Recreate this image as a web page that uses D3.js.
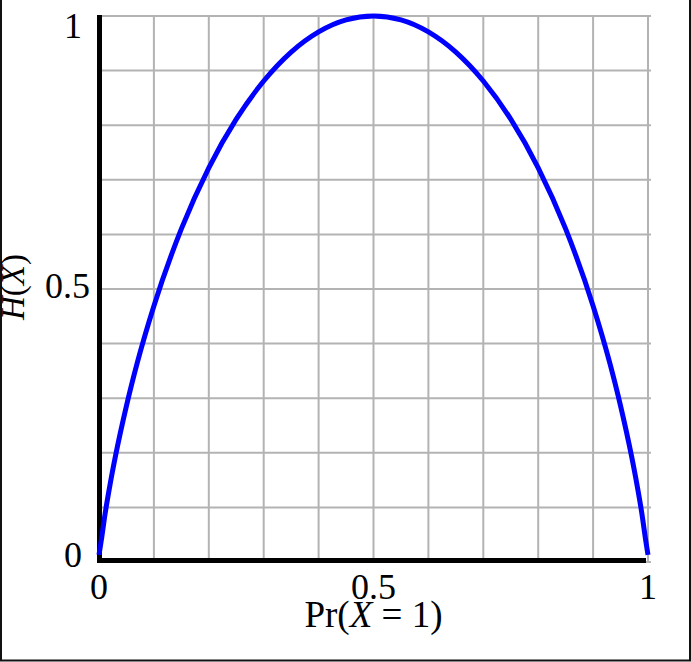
<!DOCTYPE html>
<html>
<head>
<meta charset="utf-8">
<script src="https://cdn.jsdelivr.net/npm/d3@7"></script>
<style>
  html, body { margin: 0; padding: 0; background: #fff; }
  svg { display: block; }
  text { font-family: "Liberation Serif", "Times New Roman", serif; fill: #000; }
</style>
</head>
<body>
<script>
// ---- data ----
const probs   = [0, 0.005, 0.01, 0.02, 0.03, 0.05, 0.07, 0.1, 0.15, 0.2, 0.25, 0.3, 0.35, 0.4, 0.45, 0.5,
                 0.55, 0.6, 0.65, 0.7, 0.75, 0.8, 0.85, 0.9, 0.93, 0.95, 0.97, 0.98, 0.99, 0.995, 1];
const entropy = [0.013, 0.045, 0.081, 0.141, 0.194, 0.286, 0.366, 0.469, 0.610, 0.722, 0.811, 0.881, 0.934, 0.971, 0.993, 1.0,
                 0.993, 0.971, 0.934, 0.881, 0.811, 0.722, 0.610, 0.469, 0.366, 0.286, 0.194, 0.141, 0.081, 0.045, 0.013];
const gridTicks = [0, 0.1, 0.2, 0.3, 0.4, 0.5, 0.6, 0.7, 0.8, 0.9, 1];
const xTickVals = [0, 0.5, 1];
const xTickText = ["0", "0.5", "1"];
const yTickVals = [0, 0.5, 1];
const yTickText = ["0", "0.5", "1"];

const W = 691, H = 662;
const svg = d3.select("body").append("svg").attr("width", W).attr("height", H);

const x = d3.scaleLinear().domain([0, 1]).range([99, 648]);
const y = d3.scaleLinear().domain([0, 1]).range([562, 16]);

// frame (left, bottom, right)
svg.append("path")
  .attr("d", `M1,0 V660.5 H690 V0`)
  .attr("fill", "none").attr("stroke", "#111").attr("stroke-width", 2);

// grid
const grid = svg.append("g").attr("stroke", "#b3b3b3").attr("stroke-width", 2);
grid.selectAll("line.v").data(gridTicks).join("line").attr("class", "v")
  .attr("x1", d => x(d)).attr("x2", d => x(d))
  .attr("y1", y(1) - 1).attr("y2", y(0));
grid.selectAll("line.h").data(gridTicks).join("line").attr("class", "h")
  .attr("y1", d => y(d)).attr("y2", d => y(d))
  .attr("x1", x(0)).attr("x2", x(1) + 3);

// axes (thick black)
svg.append("line").attr("x1", x(0) + 0.5).attr("x2", x(0) + 0.5)
  .attr("y1", y(1) - 1).attr("y2", y(0) + 1)
  .attr("stroke", "#000").attr("stroke-width", 5);
svg.append("line").attr("x1", x(0) - 2).attr("x2", x(1) - 2)
  .attr("y1", y(0) - 1.5).attr("y2", y(0) - 1.5)
  .attr("stroke", "#000").attr("stroke-width", 5);

// curve
const line = d3.line().x((d, i) => x(probs[i])).y(d => y(d)).curve(d3.curveMonotoneX);
svg.append("path").datum(entropy)
  .attr("d", line)
  .attr("fill", "none").attr("stroke", "#0000ff").attr("stroke-width", 5);

// x tick labels
svg.selectAll("text.xt").data(xTickVals).join("text").attr("class", "xt")
  .attr("x", d => x(d)).attr("y", 599)
  .attr("text-anchor", "middle").attr("font-size", 36)
  .text((d, i) => xTickText[i]);

// y tick labels (positioned to stay inside the picture)
const yLabelX = [82, 90, 82];
const yLabelBase = [567, 298, 38];
svg.selectAll("text.yt").data(yTickVals).join("text").attr("class", "yt")
  .attr("x", (d, i) => yLabelX[i])
  .attr("y", (d, i) => yLabelBase[i])
  .attr("text-anchor", "end").attr("font-size", 36)
  .text((d, i) => yTickText[i]);

// x axis title
const xt = svg.append("text").attr("x", x(0.5)).attr("y", 627)
  .attr("text-anchor", "middle").attr("font-size", 37);
xt.append("tspan").text("Pr(");
xt.append("tspan").attr("font-style", "italic").text("X");
xt.append("tspan").text(" = 1)");

// y axis title
const yt = svg.append("text").attr("transform", `translate(24,${287}) rotate(-90)`)
  .attr("text-anchor", "middle").attr("font-size", 33);
yt.append("tspan").attr("font-style", "italic").text("H");
yt.append("tspan").text("(");
yt.append("tspan").attr("font-style", "italic").text("X");
yt.append("tspan").text(")");
</script>
</body>
</html>
